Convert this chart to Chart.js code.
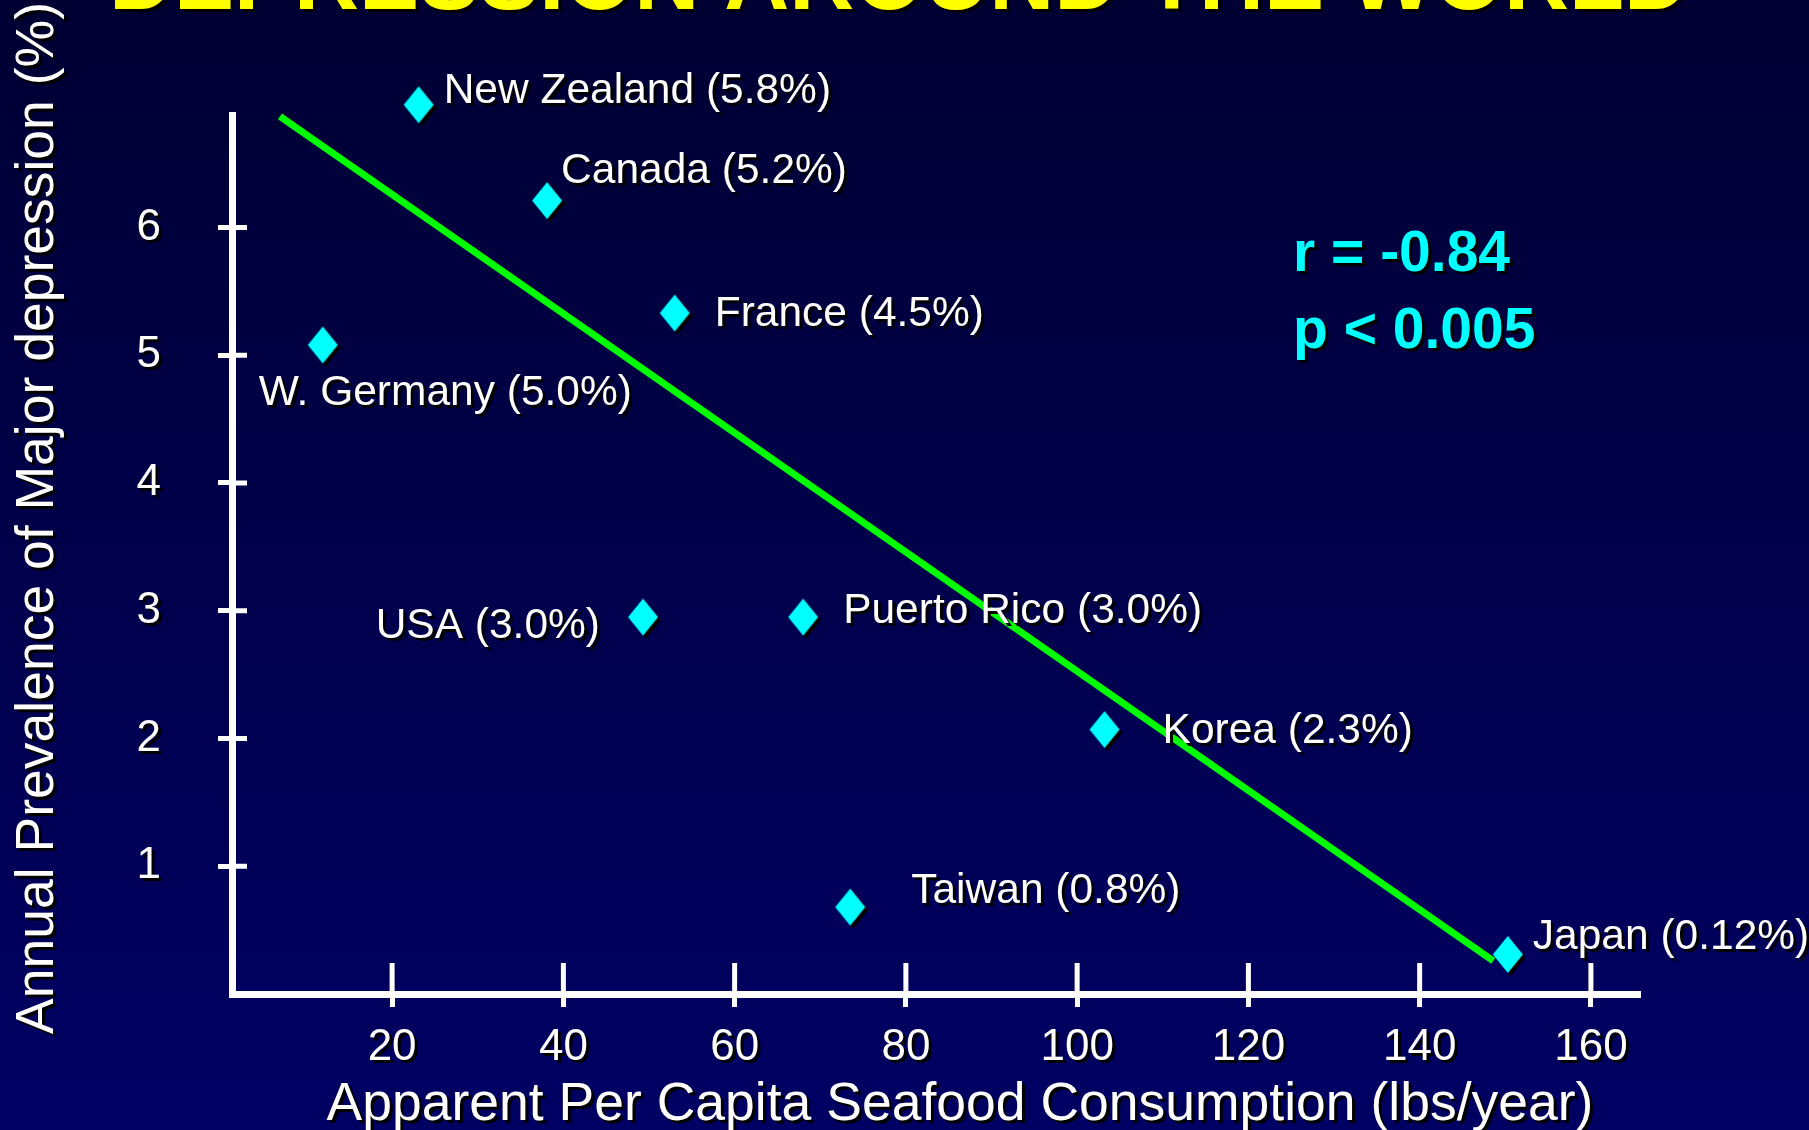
<!DOCTYPE html>
<html>
<head>
<meta charset="utf-8">
<script src="https://cdn.jsdelivr.net/npm/chart.js@4.4.0/dist/chart.umd.min.js"></script>
<style>
  html, body { margin: 0; padding: 0; background: #000033; overflow: hidden; }
</style>
</head>
<body>
<canvas id="chart" width="1809" height="1130"></canvas>
<script>
// data
const countries = ['New Zealand', 'Canada', 'France', 'W. Germany', 'USA', 'Puerto Rico', 'Korea', 'Taiwan', 'Japan'];
const rates = ['5.8', '5.2', '4.5', '5.0', '3.0', '3.0', '2.3', '0.8', '0.12'];
const seafood = [23.1, 38.1, 53.0, 11.9, 49.3, 68.0, 103.2, 73.5, 150.3];
const prevalence = [6.96, 6.21, 5.33, 5.08, 2.95, 2.95, 2.07, 0.68, 0.31];
const trendX = [6.9, 148.6];
const trendY = [6.87, 0.26];
const xTicks = [20, 40, 60, 80, 100, 120, 140, 160];
const yTicks = [1, 2, 3, 4, 5, 6];

const titleText = 'DEPRESSION AROUND THE WORLD';
const xTitle = 'Apparent Per Capita Seafood Consumption (lbs/year)';
const yTitle = 'Annual Prevalence of Major depression (%)';
const statLines = ['r = -0.84', 'p < 0.005'];

// label placement relative to each point (px): dx, dy (baseline), align
const labelOffsets = [
  [25, -2, 'left'], [14, -18, 'left'], [40, 13, 'left'], [-64, 60, 'left'],
  [-43, 21, 'right'], [40, 6, 'left'], [58, 13, 'left'], [61, -4, 'left'], [25, -5, 'left']
];

const FONT = '"Liberation Sans", Arial, sans-serif';
Chart.defaults.font.family = FONT;

function makeDiamond(w, h, off) {
  const c = document.createElement('canvas');
  const pad = off + 1;
  c.width = w + 2 * pad;
  c.height = h + 2 * pad;
  const g = c.getContext('2d');
  const cx = c.width / 2, cy = c.height / 2;
  const path = (dx, dy) => {
    g.beginPath();
    g.moveTo(cx + dx, cy - h / 2 + dy);
    g.lineTo(cx + w / 2 + dx, cy + dy);
    g.lineTo(cx + dx, cy + h / 2 + dy);
    g.lineTo(cx - w / 2 + dx, cy + dy);
    g.closePath();
  };
  g.fillStyle = '#000';
  path(off, off); g.fill();
  g.fillStyle = '#00ffff';
  path(0, 0); g.fill();
  return c;
}

function shadowOn(ctx) {
  ctx.shadowColor = '#000';
  ctx.shadowOffsetX = 3;
  ctx.shadowOffsetY = 3;
  ctx.shadowBlur = 0;
}
function shadowOff(ctx) {
  ctx.shadowColor = 'rgba(0,0,0,0)';
  ctx.shadowOffsetX = 0;
  ctx.shadowOffsetY = 0;
}

const slidePlugin = {
  id: 'slide',
  beforeDraw(chart) {
    const { ctx, width, height } = chart;
    shadowOff(ctx);
    const g = ctx.createLinearGradient(0, 0, 0, height);
    g.addColorStop(0, '#000033');
    g.addColorStop(1, '#000064');
    ctx.save();
    ctx.fillStyle = g;
    ctx.fillRect(0, 0, width, height);
    shadowOn(ctx);
    ctx.font = 'bold 90px ' + FONT;
    ctx.fillStyle = '#ffff00';
    ctx.textAlign = 'left';
    ctx.textBaseline = 'alphabetic';
    ctx.fillText(titleText, 109, 9);
    ctx.restore();
  },
  beforeDatasetsDraw(chart) {
    const { ctx, scales } = chart;
    const x = scales.x, y = scales.y;
    ctx.save();
    ctx.strokeStyle = '#fff';
    ctx.lineWidth = 5;
    ctx.beginPath();
    xTicks.forEach(v => {
      const px = x.getPixelForValue(v);
      ctx.moveTo(px, y.bottom);
      ctx.lineTo(px, y.bottom - 31);
    });
    yTicks.forEach(v => {
      const py = y.getPixelForValue(v);
      ctx.moveTo(x.left, py);
      ctx.lineTo(x.left + 15, py);
    });
    ctx.stroke();
    ctx.restore();
  },
  afterDatasetsDraw(chart) {
    const { ctx } = chart;
    const meta = chart.getDatasetMeta(0);
    ctx.save();
    shadowOn(ctx);
    ctx.fillStyle = '#fff';
    ctx.font = '42.5px ' + FONT;
    ctx.textBaseline = 'alphabetic';
    meta.data.forEach((pt, i) => {
      const [dx, dy, align] = labelOffsets[i];
      ctx.textAlign = align;
      ctx.fillText(countries[i] + ' (' + rates[i] + '%)', pt.x + dx, pt.y + dy);
    });

    ctx.fillStyle = '#00ffff';
    ctx.font = 'bold 57px ' + FONT;
    ctx.textAlign = 'left';
    ctx.fillText(statLines[0], 1293, 271);
    ctx.fillText(statLines[1], 1293, 348);

    ctx.fillStyle = '#fff';
    ctx.font = '53.5px ' + FONT;
    ctx.textAlign = 'center';
    ctx.fillText(xTitle, 960, 1120);
    ctx.translate(53, 518);
    ctx.rotate(-Math.PI / 2);
    ctx.fillText(yTitle, 0, 0);
    ctx.restore();
    // tick labels are drawn after this (ticks.z = 1) and get the drop shadow
    shadowOn(ctx);
  },
  afterDraw(chart) {
    shadowOff(chart.ctx);
  }
};

const diamond = makeDiamond(30, 37, 3);

new Chart(document.getElementById('chart'), {
  type: 'scatter',
  data: {
    datasets: [
      {
        label: 'Countries',
        data: seafood.map((v, i) => ({ x: v, y: prevalence[i] })),
        pointStyle: diamond,
        pointRadius: 18,
        pointHoverRadius: 18,
        clip: false
      },
      {
        label: 'Trend',
        data: trendX.map((v, i) => ({ x: v, y: trendY[i] })),
        showLine: true,
        borderColor: '#00ff00',
        borderWidth: 7,
        pointRadius: 0,
        clip: false
      }
    ]
  },
  options: {
    responsive: false,
    animation: false,
    events: [],
    layout: { padding: { left: 0, top: 115, right: 171, bottom: 0 } },
    plugins: { legend: { display: false }, tooltip: { enabled: false } },
    scales: {
      x: {
        type: 'linear',
        min: 1.3,
        max: 165.5,
        afterBuildTicks: s => { s.ticks = xTicks.map(v => ({ value: v })); },
        afterFit: s => { s.height = 136; },
        grid: { drawOnChartArea: false, drawTicks: true, tickLength: 13, tickWidth: 5, lineWidth: 5, tickColor: '#fff', color: '#fff' },
        border: { display: true, color: '#fff', width: 7 },
        ticks: { z: 1, color: '#fff', font: { size: 44 }, padding: 14, maxRotation: 0, autoSkip: false }
      },
      y: {
        type: 'linear',
        min: 0,
        max: 6.88,
        afterBuildTicks: s => { s.ticks = yTicks.map(v => ({ value: v })); },
        afterFit: s => { s.width = 232; },
        grid: { drawOnChartArea: false, drawTicks: true, tickLength: 14, tickWidth: 5, lineWidth: 5, tickColor: '#fff', color: '#fff' },
        border: { display: true, color: '#fff', width: 7 },
        ticks: { z: 1, color: '#fff', font: { size: 44 }, padding: 57, autoSkip: false }
      }
    }
  },
  plugins: [slidePlugin]
});
</script>
</body>
</html>
